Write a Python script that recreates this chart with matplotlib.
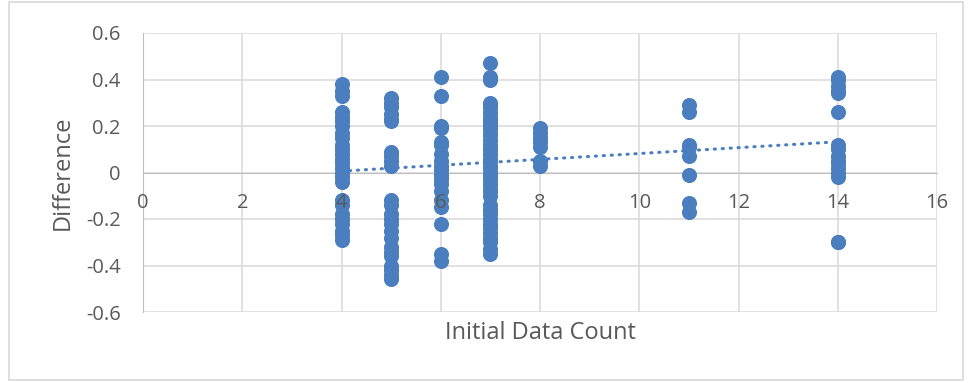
import numpy as np
import matplotlib.pyplot as plt
from matplotlib.patches import Rectangle
from matplotlib.transforms import offset_copy

# values, one list per initial data count
y_at_4 = [0.38, 0.35, 0.33, 0.26, 0.24, 0.22, 0.20, 0.17, 0.15, 0.12, 0.10, 0.08,
          0.06, 0.04, 0.02, 0.00, -0.02, -0.04, -0.12, -0.14, -0.18, -0.20, -0.22,
          -0.25, -0.27, -0.29]
y_at_5 = [0.32, 0.30, 0.28, 0.25, 0.23, 0.22, 0.09, 0.07, 0.05, 0.03, -0.12, -0.14,
          -0.18, -0.20, -0.22, -0.25, -0.28, -0.32, -0.34, -0.36, -0.40, -0.42,
          -0.44, -0.46]
y_at_6 = [0.41, 0.33, 0.20, 0.19, 0.13, 0.12, 0.08, 0.05, 0.03, 0.01, -0.01, -0.03,
          -0.05, -0.08, -0.12, -0.15, -0.22, -0.35, -0.38]
y_at_7 = [0.47, 0.41, 0.40, 0.30, 0.29, 0.28, 0.26, 0.25, 0.23, 0.22, 0.21, 0.19,
          0.17, 0.16, 0.14, 0.12, 0.10, 0.08, 0.06, 0.05, 0.03, 0.02, 0.00, -0.01,
          -0.03, -0.05, -0.07, -0.08, -0.10, -0.14, -0.16, -0.18, -0.20, -0.22,
          -0.24, -0.26, -0.28, -0.30, -0.33, -0.35]
y_at_8 = [0.19, 0.17, 0.15, 0.13, 0.11, 0.05, 0.03]
y_at_11 = [0.29, 0.26, 0.12, 0.11, 0.07, -0.01, -0.13, -0.17]
y_at_14 = [0.41, 0.40, 0.37, 0.35, 0.34, 0.26, 0.12, 0.10, 0.07, 0.05, 0.04, 0.02,
           0.00, -0.02, -0.30, -0.30]

counts = [4, 5, 6, 7, 8, 11, 14]
columns = [y_at_4, y_at_5, y_at_6, y_at_7, y_at_8, y_at_11, y_at_14]

# trendline as drawn in the reference (read at first and last count)
trend_x = [4, 14]
trend_y = [0.006, 0.132]

x_ticks = [0, 2, 4, 6, 8, 10, 12, 14, 16]
y_ticks = [-0.6, -0.4, -0.2, 0, 0.2, 0.4, 0.6]
y_labels = ["-0.6", "-0.4", "-0.2", "0", "0.2", "0.4", "0.6"]

x = np.concatenate([[c] * len(col) for c, col in zip(counts, columns)])
y = np.concatenate(columns)

BLUE = "#4A7EBF"
GRID = "#D9D9D9"
TEXT = "#595959"

plt.rcParams["font.family"] = ["Open Sans", "DejaVu Sans"]

fig = plt.figure(figsize=(9.71, 3.83), dpi=100)
ax = fig.add_axes([143 / 971, 1 - 312 / 383, (937 - 143) / 971, (312 - 33) / 383])

ax.scatter(x, y, s=118, color=BLUE, zorder=3, linewidths=0)
ax.plot(trend_x, trend_y, color=BLUE, lw=2.2, linestyle=(0, (0.4, 2.2)),
        dash_capstyle="round", zorder=4)

ax.set_xlim(0, 16)
ax.set_ylim(-0.6, 0.6)
ax.set_xticks(x_ticks)
ax.set_xticklabels([])
ax.set_yticks(y_ticks)
ax.set_yticklabels(y_labels)
ax.grid(True, color=GRID, lw=1.1, zorder=0)
ax.set_axisbelow(True)

for s in ["top", "right"]:
    ax.spines[s].set_visible(False)
ax.spines["bottom"].set_position(("data", 0))
ax.spines["bottom"].set_color("#BFBFBF")
ax.spines["left"].set_color("#BFBFBF")
ax.tick_params(length=0, labelsize=14.5, labelcolor=TEXT)
ax.tick_params(axis="y", pad=16)

# x tick labels sit on top of the markers in the reference
lab_tr = offset_copy(ax.transData, fig=fig, x=0, y=-30, units="dots")
for t in x_ticks:
    ax.text(t, 0, str(t), transform=lab_tr, ha="center", va="center",
            fontsize=14.5, color=TEXT, zorder=6)

ax.set_ylabel("Difference", fontsize=17, color=TEXT, labelpad=8)
fig.text(540 / 971, 1 - 333 / 383, "Initial Data Count", fontsize=17, color=TEXT,
         ha="center", va="center")

fig.patches.append(Rectangle((9 / 971, 3 / 383), 954 / 971, 378 / 383,
                             transform=fig.transFigure, fill=False,
                             edgecolor=GRID, lw=1.2))

fig.savefig("out.png", dpi=100)
